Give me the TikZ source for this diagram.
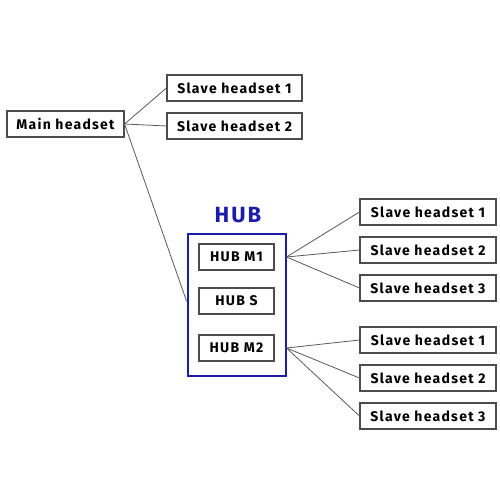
\documentclass[tikz,border=0pt]{standalone}
\usepackage{fontspec}
\setmainfont{Fira Sans}[LetterSpace=9]
\definecolor{hubblue}{RGB}{28,28,170}
\definecolor{linkgray}{RGB}{90,90,90}

\begin{document}
\begin{tikzpicture}[x=1pt, y=-1pt,
    box/.style={draw=black!70, line width=1.1pt, minimum height=26pt, inner sep=0pt,
        font=\bfseries\fontsize{14}{16}\selectfont},
    link/.style={draw=linkgray, line width=0.8pt}]
    \useasboundingbox (0,0) rectangle (500,500);

    % ==== MAIN HEADSET ====
    \node[box, minimum width=117pt] (main) at (65.5,124) {Main headset};
    \node[box, minimum width=135pt] (top1) at (234.5,88) {Slave headset 1};
    \node[box, minimum width=135pt] (top2) at (234.5,126) {Slave headset 2};

    % ==== HUB ====
    \node[draw=hubblue, line width=2pt, minimum width=98pt, minimum height=142pt] (hub) at (236.5,304.5) {};
    \node[text=hubblue, font=\bfseries\fontsize{22}{26}\selectfont] (hublabel) at (238,215) {HUB};
    \node[box, minimum width=75pt] (m1) at (236.5,257) {HUB M1};
    \node[box, minimum width=75pt] (s) at (236.5,301) {HUB S};
    \node[box, minimum width=75pt] (m2) at (236.5,348) {HUB M2};

    % ==== SLAVES OF M1 AND M2 ====
    \foreach \y [count=\i] in {212,250,288}{
        \node[box, minimum width=136pt] (a\i) at (428,\y) {Slave headset \i};
    }
    \foreach \y [count=\i] in {340,378,416}{
        \node[box, minimum width=136pt] (b\i) at (428,\y) {Slave headset \i};
    }

    % === CONNECTORS ===
    \coordinate (hubin) at (hub.west |- s.west);
    \coordinate (m1out) at (hub.east |- m1.east);
    \coordinate (m2out) at (hub.east |- m2.east);
    \draw[link] (main.east) -- (top1.west);
    \draw[link] (main.east) -- (top2.west);
    \draw[link] (main.east) -- (hubin);
    \foreach \i in {1,2,3}{
        \draw[link] (m1out) -- (a\i.west);
        \draw[link] (m2out) -- (b\i.west);
    }
\end{tikzpicture}
\end{document}
